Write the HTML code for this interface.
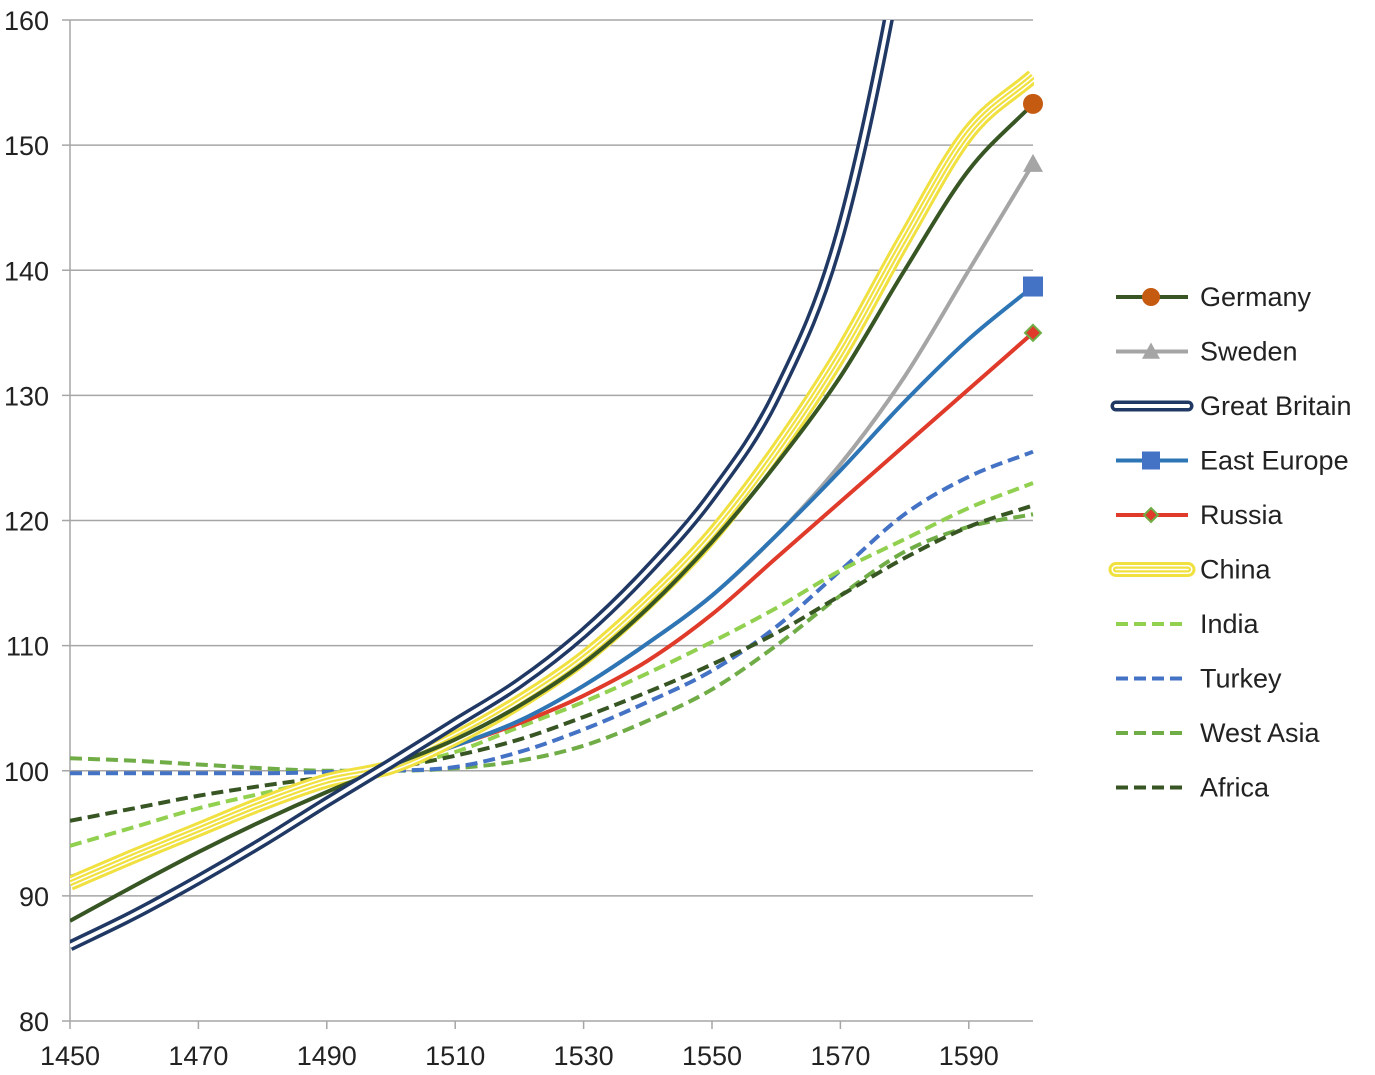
<!DOCTYPE html>
<html><head><meta charset="utf-8"><style>
html,body{margin:0;padding:0;background:#fff;}
svg{display:block;font-family:"Liberation Sans",sans-serif;}
</style></head><body>
<svg id="chart" width="1375" height="1075" xmlns="http://www.w3.org/2000/svg">
<defs><clipPath id="plotclip"><rect x="70" y="20" width="964" height="1001"/></clipPath></defs>
<g id="grid"></g><g id="axes"></g><g id="series" clip-path="url(#plotclip)"></g><g id="markers"></g><g id="legend"></g>
</svg>
<script>
const years=[1450,1460,1470,1480,1490,1500,1510,1520,1530,1540,1550,1560,1570,1580,1590,1600];
const xTicks=[1450,1470,1490,1510,1530,1550,1570,1590];
const yTicks=[80,90,100,110,120,130,140,150,160];
const germany=[88,90.8,93.5,96,98.3,100.4,102.5,105.2,108.6,113,118.3,124.5,131.5,140,148,153.3];
const sweden=[91.5,93.3,95.2,97.1,98.9,100.3,102,104,106.8,110.2,114,118.8,124.5,131.5,140,148.5];
const greatBritain=[86,88.5,91.3,94.3,97.5,100.6,103.8,107,111,116,122,130,143,167,200,240];
const eastEurope=[91.5,93.3,95.2,97.1,98.9,100.3,102,104,106.8,110.2,114,118.8,124,129.5,134.5,138.7];
const russia=[91.5,93.3,95.2,97.1,98.9,100.3,102,103.8,106,108.8,112.5,117,121.5,126,130.5,135];
const china=[91,93.2,95.3,97.4,99.2,100.3,102.6,105.5,109,113.5,118.8,125.5,133.3,142.5,151,155.5];
const india=[94,95.5,97,98.2,99.3,100.2,101.5,103.5,105.5,107.8,110.3,113,116,118.5,121,123];
const turkey=[99.8,99.8,99.8,99.8,99.9,100,100.3,101.5,103.3,105.5,108,111.5,116,120.5,123.5,125.5];
const westAsia=[101,100.8,100.5,100.2,100,100,100.2,100.8,102,104,106.5,110,114,117.5,119.5,120.5];
const africa=[96,97,98,98.8,99.5,100.2,101.2,102.5,104.3,106.3,108.5,111,114,117,119.5,121.2];

const NS="http://www.w3.org/2000/svg";
const X=v=>70+(v-1450)*(1033-70)/150;
const Y=v=>1021-(v-80)*(1021-20)/80;
function mk(tag,attrs,parent){const e=document.createElementNS(NS,tag);for(const k in attrs)e.setAttribute(k,attrs[k]);parent.appendChild(e);return e;}
const grid=document.getElementById('grid'),axes=document.getElementById('axes'),ser=document.getElementById('series'),mark=document.getElementById('markers'),leg=document.getElementById('legend');
yTicks.forEach(t=>{
 const l=mk('line',{x1:62,x2:1033,y1:Y(t),y2:Y(t),stroke:'#a6a6a6','stroke-width':1.5},grid);
 
 
 const tx=mk('text',{x:49,y:Y(t)+10,'text-anchor':'end','font-size':27,fill:'#222'},axes);tx.textContent=t;
 
 
});
const ax=mk('line',{x1:70,x2:70,y1:20,y2:1021,stroke:'#a6a6a6','stroke-width':1.5},axes);


xTicks.forEach(t=>{mk('line',{x1:X(t),x2:X(t),y1:1021,y2:1029,stroke:'#a6a6a6','stroke-width':1.5},axes);
 const tx=mk('text',{x:X(t),y:1065,'text-anchor':'middle','font-size':27,fill:'#222'},axes);tx.textContent=t;
 
 });
function pathD(vals){
 const p=vals.map((v,i)=>[X(years[i]),Y(v)]);const n=p.length;
 const d=[],m=new Array(n);
 for(let i=0;i<n-1;i++)d.push((p[i+1][1]-p[i][1])/(p[i+1][0]-p[i][0]));
 m[0]=d[0];m[n-1]=d[n-2];
 for(let i=1;i<n-1;i++){m[i]=(d[i-1]*d[i]<=0)?0:(d[i-1]+d[i])/2;}
 for(let i=0;i<n-1;i++){if(d[i]===0){m[i]=0;m[i+1]=0;continue;}const a=m[i]/d[i],b=m[i+1]/d[i],s=a*a+b*b;if(s>9){const t=3/Math.sqrt(s);m[i]=t*a*d[i];m[i+1]=t*b*d[i];}}
 let s='M'+p[0][0]+','+p[0][1];
 for(let i=0;i<n-1;i++){const h=(p[i+1][0]-p[i][0])/3;
  s+=' C'+(p[i][0]+h)+','+(p[i][1]+m[i]*h)+' '+(p[i+1][0]-h)+','+(p[i+1][1]-m[i+1]*h)+' '+p[i+1][0]+','+p[i+1][1];}
 return s;}
const defs=[
 {n:'germany',label:'Germany',v:germany,layers:[{c:'#375623',w:4}],m:'circle',mc:'#c55a11'},
 {n:'sweden',label:'Sweden',v:sweden,layers:[{c:'#a5a5a5',w:4}],m:'tri',mc:'#a5a5a5'},
 {n:'great-britain',label:'Great Britain',v:greatBritain,layers:[{c:'#203864',w:11},{c:'#fff',w:4}]},
 {n:'east-europe',label:'East Europe',v:eastEurope,layers:[{c:'#2e75b6',w:4}],m:'square',mc:'#4472c4'},
 {n:'russia',label:'Russia',v:russia,layers:[{c:'#e03a2a',w:4}],m:'diamond',mc:'#e03a2a'},
 {n:'china',label:'China',v:china,layers:[]},
 {n:'india',label:'India',v:india,layers:[{c:'#92d050',w:4,dash:'12 6'}]},
 {n:'turkey',label:'Turkey',v:turkey,layers:[{c:'#4472c4',w:4,dash:'12 6'}]},
 {n:'west-asia',label:'West Asia',v:westAsia,layers:[{c:'#70ad47',w:4,dash:'12 6'}]},
 {n:'africa',label:'Africa',v:africa,layers:[{c:'#375623',w:4,dash:'12 6'}]}
];
const order=['west-asia','turkey','india','africa','russia','sweden','east-europe','china','germany','great-britain'];
function chinaLayers(parent,d,cap){[[15,'#f0e040'],[9,'#fff'],[6,'#f0e040'],[1.5,'#fff']].forEach(a=>mk('path',{d:d,fill:'none',stroke:a[1],'stroke-width':a[0],'stroke-linecap':cap||'butt'},parent));}
order.forEach(n=>{const s=defs.find(q=>q.n===n);const d=pathD(s.v);const g=mk('g',{},ser);
 
 
 if(n==='china'){chinaLayers(g,d);return;}
 s.layers.forEach(l=>{const a={d:d,fill:'none',stroke:l.c,'stroke-width':l.w};if(l.dash)a['stroke-dasharray']=l.dash;mk('path',a,g);});});
function marker(type,x,y,c,parent,sz){
 if(type==='circle')mk('circle',{cx:x,cy:y,r:sz,fill:c},parent);
 else if(type==='tri')mk('polygon',{points:`${x},${y-sz} ${x+sz},${y+sz*0.8} ${x-sz},${y+sz*0.8}`,fill:c},parent);
 else if(type==='square')mk('rect',{x:x-sz,y:y-sz,width:2*sz,height:2*sz,fill:c},parent);
 else if(type==='diamond')mk('polygon',{points:`${x},${y-sz} ${x+sz},${y} ${x},${y+sz} ${x-sz},${y}`,fill:c,stroke:'#70ad47','stroke-width':2},parent);}
defs.forEach(s=>{if(s.m){const last=s.v.length-1;const g=mk('g',{},mark);
 
 
 marker(s.m,X(years[last]),Y(s.v[last]),s.mc,g,s.m==='diamond'?8:10);}});
defs.forEach((s,i)=>{const y=297+i*54.5;const g=mk('g',{},leg);
 
 
 const d=`M1116,${y} L1188,${y}`;
 if(s.n==='china')chinaLayers(g,d,'round');
 else s.layers.forEach(l=>{const a={d:d,fill:'none',stroke:l.c,'stroke-width':l.w};if(l.dash)a['stroke-dasharray']=l.dash;if(s.n==='great-britain')a['stroke-linecap']='round';mk('path',a,g);});
 if(s.m)marker(s.m,1151,y,s.mc,g,s.m==='diamond'?7:9);
 const t=mk('text',{x:1200,y:y+9,'font-size':27,fill:'#222'},g);t.textContent=s.label;});
</script>
</body></html>
